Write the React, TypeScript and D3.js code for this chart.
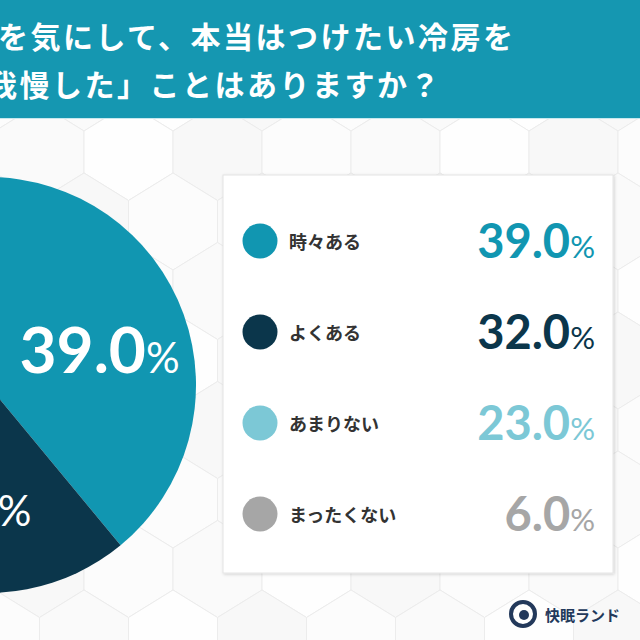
import React from "react";
import * as d3 from "d3";

// -- DATA --
const categories = ["時々ある", "よくある", "あまりない", "まったくない"];
const values = [39.0, 32.0, 23.0, 6.0];
const palette = ["#1196b1", "#0b364b", "#7cc8d6", "#a6a6a6"];
const titleLines = ["を気にして、本当はつけたい冷房を", "我慢した」ことはありますか？"];
const brand = "快眠ランド";

const W = 640;
const H = 640;
const JP = "'Noto Sans CJK JP', 'Noto Sans', sans-serif";
const NUM = "Lato, 'Open Sans', sans-serif";

// background hex tiles (decoration only)
const hexW = 44.5; // half width
const hexL = 42; // vertical edge length
const hexT = 27.5; // height of the pointy top
const hexPath = (cx: number, cy: number) => {
  const pts = [
    [cx, cy - hexL / 2 - hexT],
    [cx + hexW, cy - hexL / 2],
    [cx + hexW, cy + hexL / 2],
    [cx, cy + hexL / 2 + hexT],
    [cx - hexW, cy + hexL / 2],
    [cx - hexW, cy - hexL / 2],
  ];
  return d3.line()(pts as [number, number][]) + "Z";
};

const App = () => {
  // -- SCALES --
  const color = d3.scaleOrdinal<string, string>().domain(categories).range(palette);
  const pieData = d3
    .pie<number>()
    .sort(null)
    .value((d) => d)(values);
  const radius = 208;
  const cx = -12;
  const cy = 385;
  const arc = d3.arc<d3.PieArcDatum<number>>().innerRadius(0).outerRadius(radius);
  const labelArc = d3
    .arc<d3.PieArcDatum<number>>()
    .innerRadius(radius * 0.57)
    .outerRadius(radius * 0.57);

  const rowY = d3.scalePoint<string>().domain(categories).range([241, 514]);

  // hex grid
  const hexes: { x: number; y: number; k: number }[] = [];
  const rowStep = hexL + hexT;
  d3.range(-1, 9).forEach((r) => {
    const y = 173 - hexL / 2 + r * rowStep;
    const off = r % 2 === 0 ? 306.5 : 262;
    d3.range(-5, 6).forEach((c) => {
      hexes.push({ x: off + c * hexW * 2, y, k: (r * 3 + c * 7 + 100) % 4 });
    });
  });

  return (
    <svg
      width={W}
      height={H}
      style={{ position: "fixed", left: 0, top: 0, background: "#ffffff" }}
    >
      <defs>
        <filter id="shadow" x="-5%" y="-5%" width="110%" height="110%">
          <feDropShadow dx="1" dy="1" stdDeviation="1.5" floodColor="#000" floodOpacity="0.16" />
        </filter>
      </defs>

      {/* background tiles */}
      <g>
        {hexes.map((h, i) => (
          <path
            key={i}
            d={hexPath(h.x, h.y)}
            fill={["#fcfcfc", "#f8f8f8", "#fefefe", "#fafafa"][h.k]}
            stroke="#ececec"
            strokeWidth={1}
          />
        ))}
      </g>

      {/* header */}
      <rect x={0} y={0} width={W} height={118} fill="#1597b1" />
      <line x1={0} x2={W} y1={118.5} y2={118.5} stroke="#c7e8ee" strokeWidth={1} />
      {titleLines.map((t, i) => (
        <text
          key={i}
          x={i === 0 ? -2 : -13}
          y={i === 0 ? 48 : 96}
          fill="#ffffff"
          fontFamily={JP}
          fontWeight={700}
          fontSize={30}
          letterSpacing={2.5}
        >
          {t}
        </text>
      ))}

      {/* pie */}
      <g transform={`translate(${cx},${cy})`}>
        {pieData.map((d, i) => (
          <path key={i} d={arc(d) as string} fill={color(categories[i])} />
        ))}
        {pieData
          .filter((d) => d.value >= 10)
          .map((d, i) => {
            const [lx, ly] = labelArc.centroid(d);
            return (
              <text
                key={i}
                x={lx}
                y={ly + 28}
                textAnchor="middle"
                fill="#ffffff"
                fontFamily={NUM}
              >
                <tspan fontWeight={700} fontSize={64}>
                  {d.value.toFixed(1)}
                </tspan>
                <tspan fontWeight={400} fontSize={42}>
                  %
                </tspan>
              </text>
            );
          })}
      </g>

      {/* legend card */}
      <rect
        x={223}
        y={175}
        width={390}
        height={398}
        fill="#ffffff"
        stroke="#e4e4e4"
        filter="url(#shadow)"
      />
      {categories.map((c, i) => (
        <g key={c} transform={`translate(0,${rowY(c)})`}>
          <circle cx={260} cy={0} r={17.5} fill={color(c)} />
          <text
            x={289}
            y={0}
            dominantBaseline="central"
            fill="#333333"
            fontFamily={JP}
            fontWeight={700}
            fontSize={18}
          >
            {c}
          </text>
          <text x={595} y={17} textAnchor="end" fill={color(c)} fontFamily={NUM}>
            <tspan fontWeight={700} fontSize={47}>
              {values[i].toFixed(1)}
            </tspan>
            <tspan fontWeight={400} fontSize={31}>
              %
            </tspan>
          </text>
        </g>
      ))}

      {/* brand */}
      <g transform="translate(523,614)">
        <circle r={12} fill="#ffffff" stroke="#23395b" strokeWidth={4} />
        <circle r={5} cx={1} cy={1} fill="#23395b" />
      </g>
      <text
        x={545}
        y={614}
        dominantBaseline="central"
        fill="#23395b"
        fontFamily={JP}
        fontWeight={700}
        fontSize={15}
      >
        {brand}
      </text>
    </svg>
  );
};

export default App;
